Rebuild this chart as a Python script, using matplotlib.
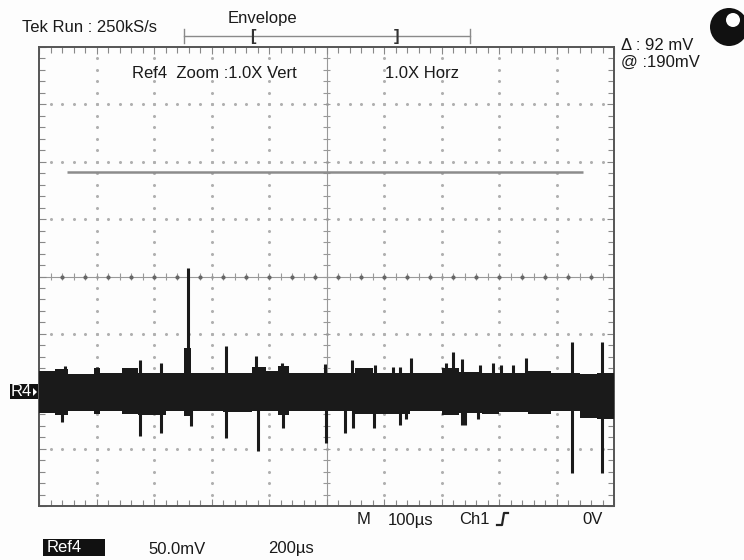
import matplotlib.pyplot as plt
import numpy as np
from matplotlib.patches import Rectangle, Circle, Polygon
from matplotlib.lines import Line2D

plt.rcParams["font.family"] = ["Liberation Sans", "DejaVu Sans"]

# Screen: 10 div x 200us, 8 div x 50 mV
T_SPAN = 2000.0
V_HALF = 200.0

# Cursor (grey line) level and extent
cursor_level = 91.0
cursor_start, cursor_end = 97.0, 1892.0

# Noise envelope of Ref4 trace (step segments, us / mV)
env_x = [0, 55, 100, 190, 212, 290, 345, 440, 505, 530, 640, 740, 790, 830, 870,
         1100, 1160, 1290, 1400, 1460, 1540, 1600, 1700, 1780, 1880, 1940, 2000]
env_top = [-82, -81, -85, -80, -84, -80, -84, -84, -62, -84, -84, -79, -82, -78, -84,
           -80, -84, -84, -80, -83, -84, -84, -82, -84, -85, -84, -84]
env_bot = [-119, -121, -117, -120, -117, -120, -121, -117, -122, -117, -118, -117, -117, -121, -117,
           -120, -120, -117, -121, -119, -120, -118, -120, -117, -123, -124, -124]
band_mid = -101.0

# Glitches above the band (time us, peak mV)
up_t = [90, 202, 351, 424, 518, 650, 755, 845, 995, 1089, 1169, 1231, 1256, 1294,
        1416, 1440, 1471, 1534, 1579, 1607, 1649, 1694, 1854, 1958]
up_v = [-78, -79, -73, -75, 7, -61, -69, -75, -76, -73, -77, -79, -79, -71,
        -75, -66, -72, -77, -75, -77, -77, -71, -57, -57]

# Glitches below the band (time us, trough mV)
dn_t = [80, 351, 424, 529, 650, 762, 849, 998, 1064, 1092, 1165, 1256, 1276, 1471, 1482, 1527, 1854, 1958]
dn_v = [-127, -139, -136, -130, -141, -152, -132, -145, -136, -132, -132, -129, -124, -129, -129, -124, -171, -171]

W, H = 744, 560
fig = plt.figure(figsize=(W / 100, H / 100), dpi=100)
fig.patch.set_facecolor("#fdfdfd")


def fx(px):
    return px / W


def fy(py):
    return 1 - py / H


ax = fig.add_axes([fx(39), fy(506), 575 / W, 459 / H])
ax.set_facecolor("#fdfdfd")
ax.set_xlim(0, T_SPAN)
ax.set_ylim(-V_HALF, V_HALF)

# frame + edge ticks
for s in ax.spines.values():
    s.set_color("#555555")
    s.set_linewidth(1.4)
ax.set_xticks(np.arange(0, T_SPAN + 1, 200))
ax.set_xticks(np.arange(0, T_SPAN + 1, 40), minor=True)
ax.set_yticks(np.arange(-V_HALF, V_HALF + 1, 50))
ax.set_yticks(np.arange(-V_HALF, V_HALF + 1, 10), minor=True)
ax.tick_params(which="both", direction="in", top=True, right=True,
               labelbottom=False, labelleft=False, color="#888888", width=0.8)
ax.tick_params(which="major", length=5)
ax.tick_params(which="minor", length=4)

# dotted graticule
dot_kw = dict(ls="none", marker="o", ms=1.2, color="#b0b0b0", zorder=1)
ys = np.arange(-V_HALF + 10, V_HALF, 10)
for gx in np.arange(200, T_SPAN, 200):
    if gx != 1000:
        ax.plot(np.full_like(ys, gx), ys, **dot_kw)
xs = np.arange(40, T_SPAN, 40)
for gy in np.arange(-150, V_HALF, 50):
    if gy != 0:
        ax.plot(xs, np.full_like(xs, gy), **dot_kw)

# centre cross with ticks
ax.axhline(0, color="#999999", lw=0.8, zorder=1)
ax.axvline(1000, color="#999999", lw=0.8, zorder=1)
ax.vlines(xs, -3, 3, color="#999999", lw=0.8, zorder=1)
ax.hlines(ys, 1000 - 12, 1000 + 12, color="#999999", lw=0.8, zorder=1)
ax.plot(xs[1::2], np.zeros_like(xs[1::2]), ls="none", marker="o", ms=2, color="#666666", zorder=1)

# cursor line
ax.hlines(cursor_level, cursor_start, cursor_end, color="#8c8c8c", lw=1.8, zorder=2)

# Ref4 envelope trace
ax.fill_between(env_x, env_top, env_bot, step="post", color="#1a1a1a", lw=0, zorder=3)
ax.vlines(up_t, band_mid, up_v, color="#1a1a1a", lw=2.2, zorder=3)
ax.vlines(dn_t, band_mid, dn_v, color="#1a1a1a", lw=2.2, zorder=3)

txt = dict(fontsize=12, color="#1a1a1a", va="center")

# header
fig.text(fx(22), fy(27), "Tek Run : 250kS/s", **txt)
fig.text(fx(228), fy(18), "Envelope", **txt)
grey = "#8a8a8a"
fig.add_artist(Line2D([fx(184), fx(470)], [fy(36), fy(36)], color=grey, lw=1.0))
for ex in (184, 470):
    fig.add_artist(Line2D([fx(ex), fx(ex)], [fy(29), fy(43)], color=grey, lw=1.0))
fig.text(fx(250), fy(37), "[", fontsize=12, color="#333333", va="center", fontweight="bold")
fig.text(fx(394), fy(37), "]", fontsize=12, color="#333333", va="center", fontweight="bold")

fig.text(fx(132), fy(73), "Ref4  Zoom :1.0X Vert", **txt)
fig.text(fx(385), fy(73), "1.0X Horz", **txt)

fig.text(fx(621), fy(46), "\u0394 : 92 mV", **txt)
fig.text(fx(621), fy(62), "@ :190mV", **txt)

# run indicator
fig.add_artist(Circle((7.29, 5.6 - 0.27), 0.19, transform=fig.dpi_scale_trans,
                      color="#111111", lw=0))
fig.add_artist(Circle((7.33, 5.6 - 0.20), 0.07, transform=fig.dpi_scale_trans,
                      color="white", lw=0))

# R4 marker
fig.add_artist(Rectangle((fx(10), fy(399)), 28 / W, 15 / H, color="#111111", lw=0))
fig.text(fx(11), fy(392), "R4", fontsize=12, color="white", va="center")
fig.add_artist(Polygon([[fx(33), fy(388)], [fx(33), fy(396)], [fx(37), fy(392)]],
                       closed=True, color="white", lw=0))

# footer
fig.text(fx(357), fy(520), "M", **txt)
fig.text(fx(388), fy(520), "100\u00b5s", **txt)
fig.text(fx(459), fy(520), "Ch1", **txt)
fig.add_artist(Line2D([fx(497), fx(502), fx(504), fx(508)],
                      [fy(525), fy(525), fy(513), fy(513)], color="#222222", lw=1.6))
fig.text(fx(582), fy(520), "0V", **txt)

fig.add_artist(Rectangle((fx(43), fy(556)), 62 / W, 17 / H, color="#111111", lw=0))
fig.text(fx(47), fy(548), "Ref4", fontsize=12, color="white", va="center")
fig.text(fx(148), fy(549), "50.0mV", **txt)
fig.text(fx(268), fy(549), "200\u00b5s", **txt)

fig.savefig("out.png", dpi=100, facecolor=fig.get_facecolor())
